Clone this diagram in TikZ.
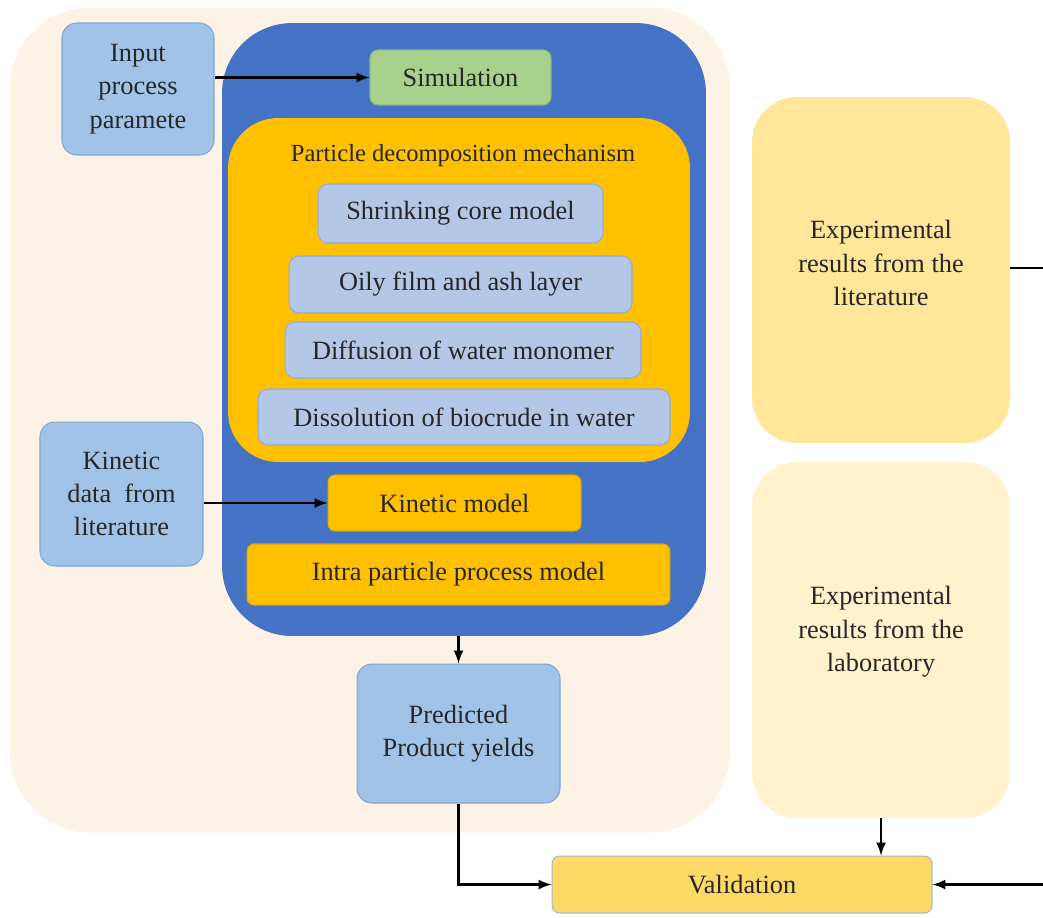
\documentclass[tikz,border=0pt]{standalone}
\usepackage{fontspec}
\setmainfont{LiberationSerif}[Extension=.ttf, UprightFont=*-Regular, BoldFont=*-Bold, ItalicFont=*-Italic, BoldItalicFont=*-BoldItalic]
\definecolor{peach}{HTML}{FCF2E6}
\definecolor{lightblue}{HTML}{A2C3E8}
\definecolor{lightblueline}{HTML}{7FA6D4}
\definecolor{bigblue}{HTML}{4472C4}
\definecolor{simgreen}{HTML}{A9D18E}
\definecolor{simgreenline}{HTML}{8DBA72}
\definecolor{amber}{HTML}{FFC000}
\definecolor{amberline}{HTML}{E0A800}
\definecolor{greyblue}{HTML}{B4C7E7}
\definecolor{greyblueline}{HTML}{8FAADC}
\definecolor{paleyellow}{HTML}{FFE699}
\definecolor{cream}{HTML}{FFF2CC}
\definecolor{gold}{HTML}{FFD966}
\definecolor{goldline}{HTML}{A8B8C6}
\tikzset{
  boxtext/.style={font=\fontsize{15}{19}\selectfont, text=black!85, align=center, inner sep=0pt},
  inputbox/.style={boxtext, draw=lightblueline, fill=lightblue, rounded corners=0.3cm, line width=0.6pt},
  mechbox/.style={boxtext, draw=greyblueline, fill=greyblue, rounded corners=0.2cm, line width=0.6pt},
  modelbox/.style={boxtext, draw=amberline, fill=amber, rounded corners=0.14cm, line width=0.6pt},
  expbox/.style={boxtext, rounded corners=0.9cm},
  flow/.style={-latex, line width=1.5pt, black}
}
\begin{document}
\begin{tikzpicture}[x=0.02cm, y=-0.02cm]
\useasboundingbox (0,0) rectangle (1043,917);
\node[fill=peach, rounded corners=1.6cm, minimum width=14.4cm, minimum height=16.5cm] (bg) at (370,420) {};
\node[fill=bigblue, rounded corners=1.4cm, minimum width=9.68cm, minimum height=12.26cm] (model) at (464,329.5) {};
\node[fill=amber, rounded corners=1.0cm, minimum width=9.24cm, minimum height=6.88cm] (mech) at (459,290) {};
\node[boxtext, font=\fontsize{14}{17}\selectfont] (mechtitle) at (463,156) {Particle decomposition mechanism};

\node[inputbox, minimum width=3.04cm, minimum height=2.64cm] (input) at (138,89) {Input\\process\\paramete};
\node[boxtext, draw=simgreenline, fill=simgreen, rounded corners=0.16cm, line width=0.6pt, minimum width=3.62cm, minimum height=1.1cm] (sim) at (460.5,77.5) {Simulation};

\node[mechbox, minimum width=5.7cm, minimum height=1.18cm] (shrink) at (460.5,213.5) {Shrinking core model};
\node[mechbox, minimum width=6.86cm, minimum height=1.14cm] (oily) at (460.5,284.5) {Oily film and ash layer};
\node[mechbox, minimum width=7.12cm, minimum height=1.12cm] (diffusion) at (463,350) {Diffusion of water monomer};
\node[mechbox, minimum width=8.24cm, minimum height=1.12cm] (dissolution) at (464,417) {Dissolution of biocrude in water};

\node[modelbox, minimum width=5.06cm, minimum height=1.12cm] (kinetic) at (454.5,503) {Kinetic model};
\node[modelbox, minimum width=8.46cm, minimum height=1.22cm] (intra) at (458.5,574.5) {Intra particle process model};

\node[inputbox, minimum width=3.26cm, minimum height=2.88cm] (kindata) at (121.5,494) {Kinetic\\data\ \ from\\literature};
\node[inputbox, minimum width=4.06cm, minimum height=2.78cm] (predicted) at (458.5,733.5) {Predicted\\Product yields};

\node[expbox, fill=paleyellow, minimum width=5.16cm, minimum height=6.92cm] (litres) at (881,270) {};
\node[boxtext] (littext) at (881,263) {Experimental\\results from the\\literature};
\node[expbox, fill=cream, minimum width=5.16cm, minimum height=7.12cm] (labres) at (881,640) {};
\node[boxtext] (labtext) at (881,632) {Experimental\\results from the\\laboratory};

\node[boxtext, draw=goldline, fill=gold, rounded corners=0.15cm, line width=0.6pt, minimum width=7.6cm, minimum height=1.14cm] (valid) at (742,884.5) {Validation};

\coordinate (edge) at (1060,268);
\draw[flow] (input.east |- sim) -- (sim.west);
\draw[flow] (kindata.east |- kinetic) -- (kinetic.west);
\draw[flow] (model.south -| predicted) -- (predicted.north);
\draw[flow] (predicted.south) |- (valid.west);
\draw[flow] (labres.south) -- (labres.south |- valid.north);
\draw[flow] (litres.east |- edge) -- (edge) |- (valid.east);
\end{tikzpicture}
\end{document}
